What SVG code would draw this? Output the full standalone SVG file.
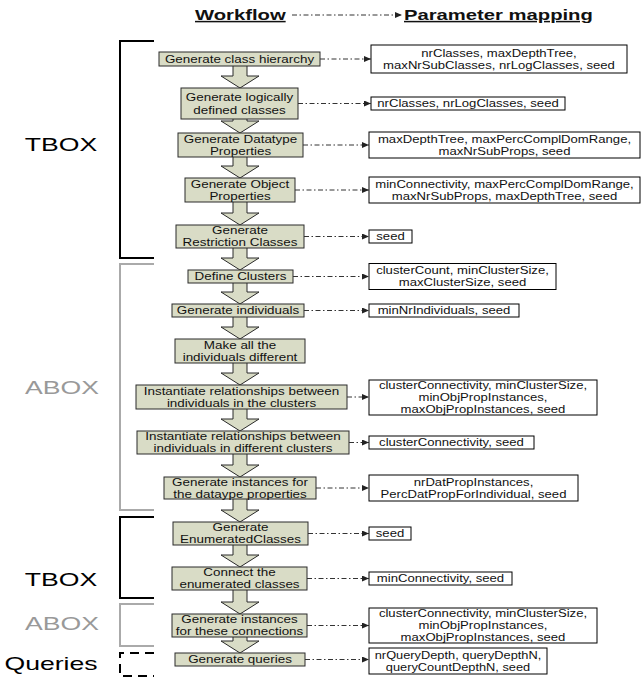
<svg xmlns="http://www.w3.org/2000/svg" width="641" height="678" viewBox="0 0 641 678">
<style>
.box{fill:#d9dcc6;stroke:#2b2b2b;stroke-width:1}
.blk{fill:#d9dcc6;stroke:#2b2b2b;stroke-width:1}
.par{fill:#fff;stroke:#000;stroke-width:1}
.t{font-family:"Liberation Sans",Arial,sans-serif;font-size:10.5px;fill:#111;text-anchor:middle}
.big{font-family:"Liberation Sans",Arial,sans-serif;font-size:19px;text-anchor:middle}
.ttl{font-family:"Liberation Sans",Arial,sans-serif;font-size:15px;font-weight:bold;text-decoration:underline;fill:#111}
.conn{stroke:#333;stroke-width:1;stroke-dasharray:5 2.5 1.5 2.5;fill:none;marker-end:url(#ah)}
.brk{fill:none;stroke-width:2}
</style>
<defs>
<marker id="ah" markerWidth="8" markerHeight="6" refX="7" refY="3" orient="auto" markerUnits="userSpaceOnUse"><path d="M0,0 L7,3 L0,6 z" fill="#222"/></marker>
</defs>
<rect width="641" height="678" fill="#fff"/>

<g id="title">
<text class="ttl" transform="translate(195,20) scale(1.35,1)">Workflow</text>
<text class="ttl" transform="translate(404,20) scale(1.35,1)">Parameter mapping</text>
</g>

<g id="brackets">
<path class="brk" d="M154,41 H120 V258 H154" stroke="#000"/>
<path class="brk" d="M154,264 H120 V510 H154" stroke="#aaa"/>
<path class="brk" d="M154,517 H120 V598 H154" stroke="#000"/>
<path class="brk" d="M154,604 H120 V646 H154" stroke="#aaa"/>
<path class="brk" d="M154,653 H120 V676 H154" stroke="#000" stroke-dasharray="9 6"/>
<text class="big" fill="#000" transform="translate(61,151) scale(1.4,1)">TBOX</text>
<text class="big" fill="#999" transform="translate(62,394) scale(1.4,1)">ABOX</text>
<text class="big" fill="#000" transform="translate(61,586) scale(1.4,1)">TBOX</text>
<text class="big" fill="#999" transform="translate(62,630) scale(1.4,1)">ABOX</text>
<text class="big" fill="#000" transform="translate(51,670) scale(1.4,1)">Queries</text>
</g>

<g id="flow-arrows">
<path class="blk" d="M233,61 V76 H221 L240,88 L259,76 H247 V61"/>
<path class="blk" d="M233,114 V121 H221 L240,133 L259,121 H247 V114"/>
<path class="blk" d="M233,152 V166 H221 L240,178 L259,166 H247 V152"/>
<path class="blk" d="M233,197 V213 H221 L240,225 L259,213 H247 V197"/>
<path class="blk" d="M233,243 V258 H221 L240,270 L259,258 H247 V243"/>
<path class="blk" d="M233,280 V292 H221 L240,304 L259,292 H247 V280"/>
<path class="blk" d="M233,314 V327 H221 L240,339 L259,327 H247 V314"/>
<path class="blk" d="M233,358 V373 H221 L240,385 L259,373 H247 V358"/>
<path class="blk" d="M233,404 V419 H221 L240,431 L259,419 H247 V404"/>
<path class="blk" d="M233,449 V465 H221 L240,477 L259,465 H247 V449"/>
<path class="blk" d="M233,494 V510 H221 L240,522 L259,510 H247 V494"/>
<path class="blk" d="M233,540 V555 H221 L240,567 L259,555 H247 V540"/>
<path class="blk" d="M233,585 V602 H221 L240,614 L259,602 H247 V585"/>
<path class="blk" d="M233,632 V641 H221 L240,653 L259,641 H247 V632"/>
</g>

<g id="n1"><rect class="box" x="159" y="52" width="161" height="14"/><text class="t" transform="translate(239.5,62.8) scale(1.28,1)">Generate class hierarchy</text></g>
<g id="n2"><rect class="box" x="181" y="88" width="117" height="31"/><text class="t" transform="translate(239.5,100.8) scale(1.28,1)"><tspan x="0">Generate logically</tspan><tspan x="0" dy="13">defined classes</tspan></text></g>
<g id="n3"><rect class="box" x="178" y="133" width="125" height="24"/><text class="t" transform="translate(240.5,142.8) scale(1.28,1)"><tspan x="0">Generate Datatype</tspan><tspan x="0" dy="12">Properties</tspan></text></g>
<g id="n4"><rect class="box" x="185" y="178" width="110" height="24"/><text class="t" transform="translate(240,187.8) scale(1.28,1)"><tspan x="0">Generate Object</tspan><tspan x="0" dy="12">Properties</tspan></text></g>
<g id="n5"><rect class="box" x="176" y="225" width="128" height="23"/><text class="t" transform="translate(240,234.3) scale(1.28,1)"><tspan x="0">Generate</tspan><tspan x="0" dy="12">Restriction Classes</tspan></text></g>
<g id="n6"><rect class="box" x="188" y="270" width="105" height="13"/><text class="t" transform="translate(240.5,280.3) scale(1.28,1)">Define Clusters</text></g>
<g id="n7"><rect class="box" x="172" y="304" width="132" height="13"/><text class="t" transform="translate(238,314.3) scale(1.28,1)">Generate individuals</text></g>
<g id="n8"><rect class="box" x="175" y="339" width="130" height="24"/><text class="t" transform="translate(240,348.8) scale(1.28,1)"><tspan x="0">Make all the</tspan><tspan x="0" dy="12">individuals different</tspan></text></g>
<g id="n9"><rect class="box" x="136" y="385" width="211" height="24"/><text class="t" transform="translate(241.5,394.8) scale(1.28,1)"><tspan x="0">Instantiate relationships between</tspan><tspan x="0" dy="12">individuals in the clusters</tspan></text></g>
<g id="n10"><rect class="box" x="137" y="431" width="212" height="23"/><text class="t" transform="translate(243,440.3) scale(1.28,1)"><tspan x="0">Instantiate relationships between</tspan><tspan x="0" dy="12">individuals in different clusters</tspan></text></g>
<g id="n11"><rect class="box" x="164" y="477" width="152" height="22"/><text class="t" transform="translate(240,485.8) scale(1.28,1)"><tspan x="0">Generate instances for</tspan><tspan x="0" dy="12">the dataype properties</tspan></text></g>
<g id="n12"><rect class="box" x="173" y="522" width="135" height="23"/><text class="t" transform="translate(240.5,531.3) scale(1.28,1)"><tspan x="0">Generate</tspan><tspan x="0" dy="12">EnumeratedClasses</tspan></text></g>
<g id="n13"><rect class="box" x="172" y="567" width="135" height="23"/><text class="t" transform="translate(239.5,576.3) scale(1.28,1)"><tspan x="0">Connect the</tspan><tspan x="0" dy="12">enumerated classes</tspan></text></g>
<g id="n14"><rect class="box" x="172" y="614" width="135" height="23"/><text class="t" transform="translate(239.5,623.3) scale(1.28,1)"><tspan x="0">Generate instances</tspan><tspan x="0" dy="12">for these connections</tspan></text></g>
<g id="n15"><rect class="box" x="175" y="653" width="130" height="13"/><text class="t" transform="translate(240,663.3) scale(1.28,1)">Generate queries</text></g>

<g id="params">
<g id="p1"><rect class="par" x="371" y="45" width="256" height="28"/><text class="t" transform="translate(499,56.8) scale(1.25,1)"><tspan x="0">nrClasses, maxDepthTree,</tspan><tspan x="0" dy="12">maxNrSubClasses, nrLogClasses, seed</tspan></text></g>
<g id="p2"><rect class="par" x="371" y="97" width="194" height="13"/><text class="t" transform="translate(468,107.3) scale(1.25,1)">nrClasses, nrLogClasses, seed</text></g>
<g id="p3"><rect class="par" x="369" y="132" width="271" height="26"/><text class="t" transform="translate(504.5,142.8) scale(1.25,1)"><tspan x="0">maxDepthTree, maxPercComplDomRange,</tspan><tspan x="0" dy="12">maxNrSubProps, seed</tspan></text></g>
<g id="p4"><rect class="par" x="369" y="177" width="271" height="26"/><text class="t" transform="translate(504.5,187.8) scale(1.25,1)"><tspan x="0">minConnectivity, maxPercComplDomRange,</tspan><tspan x="0" dy="12">maxNrSubProps, maxDepthTree, seed</tspan></text></g>
<g id="p5"><rect class="par" x="369" y="230" width="43" height="13"/><text class="t" transform="translate(390.5,240.3) scale(1.25,1)">seed</text></g>
<g id="p6"><rect class="par" x="369" y="263.5" width="187" height="26"/><text class="t" transform="translate(462.5,274.3) scale(1.25,1)"><tspan x="0">clusterCount, minClusterSize,</tspan><tspan x="0" dy="12">maxClusterSize, seed</tspan></text></g>
<g id="p7"><rect class="par" x="369" y="304" width="150" height="13"/><text class="t" transform="translate(444,314.3) scale(1.25,1)">minNrIndividuals, seed</text></g>
<g id="p9"><rect class="par" x="369" y="380" width="228" height="35"/><text class="t" transform="translate(483,388.8) scale(1.25,1)"><tspan x="0">clusterConnectivity, minClusterSize,</tspan><tspan x="0" dy="12">minObjPropInstances,</tspan><tspan x="0" dy="12">maxObjPropInstances, seed</tspan></text></g>
<g id="p10"><rect class="par" x="369" y="436" width="165" height="13"/><text class="t" transform="translate(451.5,446.3) scale(1.25,1)">clusterConnectivity, seed</text></g>
<g id="p11"><rect class="par" x="369" y="475" width="209" height="26"/><text class="t" transform="translate(473.5,485.8) scale(1.25,1)"><tspan x="0">nrDatPropInstances,</tspan><tspan x="0" dy="12">PercDatPropForIndividual, seed</tspan></text></g>
<g id="p12"><rect class="par" x="369" y="527" width="42" height="13"/><text class="t" transform="translate(390,537.3) scale(1.25,1)">seed</text></g>
<g id="p13"><rect class="par" x="369" y="572" width="143" height="13"/><text class="t" transform="translate(440.5,582.3) scale(1.25,1)">minConnectivity, seed</text></g>
<g id="p14"><rect class="par" x="369" y="608" width="228" height="35"/><text class="t" transform="translate(483,616.8) scale(1.25,1)"><tspan x="0">clusterConnectivity, minClusterSize,</tspan><tspan x="0" dy="12">minObjPropInstances,</tspan><tspan x="0" dy="12">maxObjPropInstances, seed</tspan></text></g>
<g id="p15"><rect class="par" x="369" y="648" width="178" height="26"/><text class="t" transform="translate(458,658.8) scale(1.22,1)"><tspan x="0">nrQueryDepth, queryDepthN,</tspan><tspan x="0" dy="12">queryCountDepthN, seed</tspan></text></g>
</g>

<g id="connectors">
<line class="conn" x1="292" y1="15" x2="402" y2="15"/>
<line class="conn" x1="320" y1="59" x2="371" y2="59"/>
<line class="conn" x1="298" y1="103.5" x2="371" y2="103.5"/>
<line class="conn" x1="303" y1="145" x2="369" y2="145"/>
<line class="conn" x1="295" y1="190" x2="369" y2="190"/>
<line class="conn" x1="304" y1="236.5" x2="369" y2="236.5"/>
<line class="conn" x1="293" y1="276.5" x2="369" y2="276.5"/>
<line class="conn" x1="304" y1="310.5" x2="369" y2="310.5"/>
<line class="conn" x1="347" y1="397" x2="369" y2="397"/>
<line class="conn" x1="349" y1="442.5" x2="369" y2="442.5"/>
<line class="conn" x1="316" y1="488" x2="369" y2="488"/>
<line class="conn" x1="308" y1="533.5" x2="369" y2="533.5"/>
<line class="conn" x1="307" y1="578.5" x2="369" y2="578.5"/>
<line class="conn" x1="307" y1="625.5" x2="369" y2="625.5"/>
<line class="conn" x1="305" y1="659.5" x2="369" y2="659.5"/>
</g>
</svg>
